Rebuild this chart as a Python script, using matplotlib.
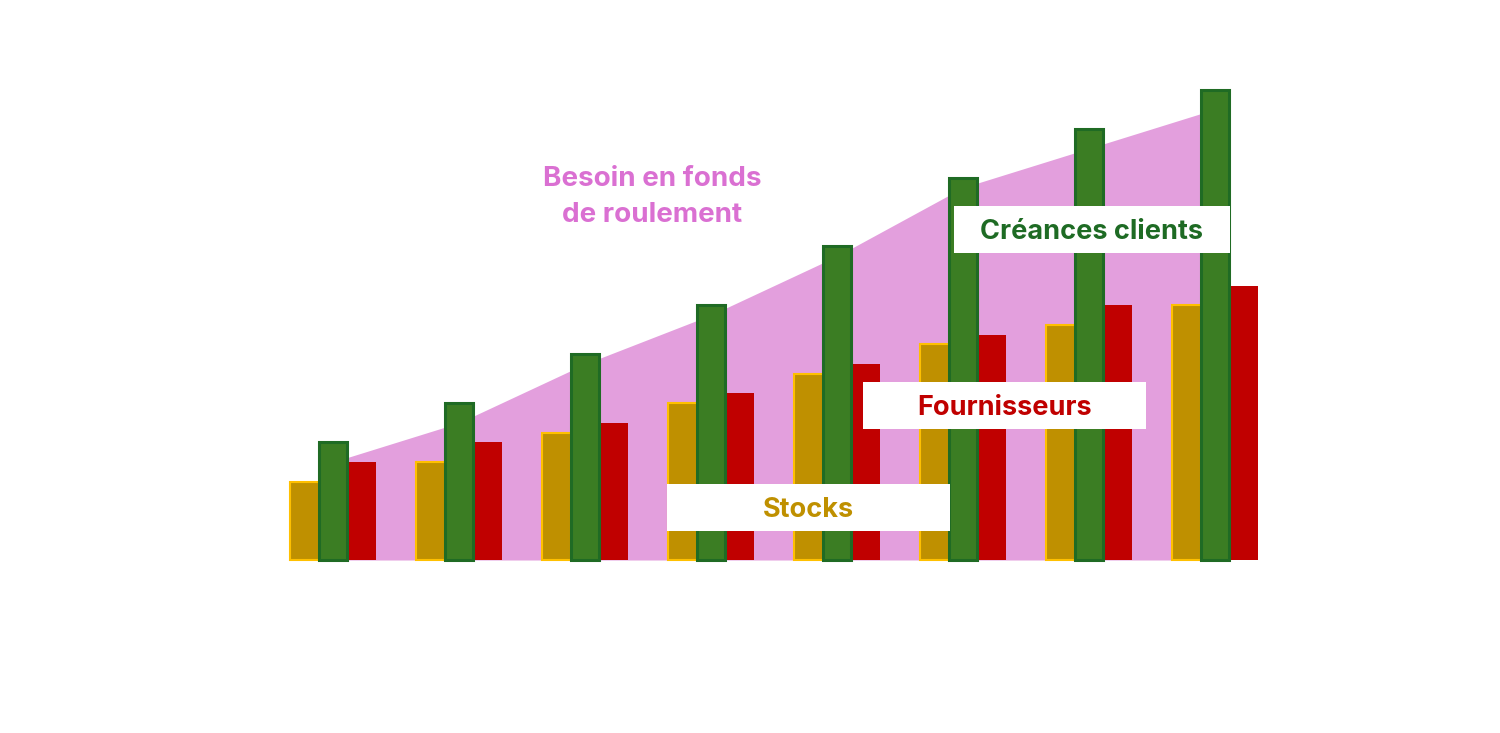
import numpy as np
import matplotlib.pyplot as plt
from matplotlib.patches import Rectangle

# values (same unit for all three series)
periods = ["P1", "P2", "P3", "P4", "P5", "P6", "P7", "P8"]
stocks = [40, 50, 65, 80, 95, 110, 120, 130]
creances = [60, 80, 105, 130, 160, 195, 220, 240]
fournisseurs = [50, 60, 70, 85, 100, 115, 130, 140]

label_bfr = "Besoin en fonds\nde roulement"
label_stocks = "Stocks"
label_creances = "Créances clients"
label_fourn = "Fournisseurs"

plt.rcParams['font.family'] = ['Inter', 'DejaVu Sans']

fig = plt.figure(figsize=(15, 7.33), dpi=100)
ax = fig.add_axes([0, 0, 1, 1])

x = np.arange(len(periods))
w = 0.226
bfr = np.array(stocks) + np.array(creances) - np.array(fournisseurs)

ax.fill_between(x, 0, bfr, color="#e39fdd", linewidth=0, zorder=1)
ax.bar(x - w, stocks, w, color="#bf9000", edgecolor="#ffc000", linewidth=1.5, zorder=2)
ax.bar(x + w, fournisseurs, w, color="#c00000", linewidth=0, zorder=2)
ax.bar(x, creances, w, color="#3b7d23", edgecolor="#1f6b24", linewidth=2.2, zorder=3)

ax.set_xlim(-333 / 126, (1500 - 333) / 126)
ax.set_ylim(-173 / 1.96, (733 - 173) / 1.96)
ax.axis("off")


def box_label(x0, y0, x1, y1, text, color):
    # pixel coords from top-left of the image
    W, H = 1500, 733
    fig.patches.append(Rectangle((x0 / W, 1 - y1 / H), (x1 - x0) / W, (y1 - y0) / H,
                                 transform=fig.transFigure, facecolor="white",
                                 edgecolor="none", zorder=5))
    fig.text((x0 + x1) / 2 / W, 1 - ((y0 + y1) / 2 + 2.5) / H, text, color=color,
             fontsize=19.5, fontweight="bold", ha="center", va="center", zorder=6)


box_label(954, 206, 1230, 253, label_creances, "#1e6b24")
box_label(863, 382, 1146, 429, label_fourn, "#c00000")
box_label(667, 484, 950, 531, label_stocks, "#bf9000")

fig.text(652 / 1500, 1 - 197 / 733, label_bfr, color="#da70d2", fontsize=20,
         fontweight="bold", ha="center", va="center", linespacing=1.45)

fig.savefig("out.png", dpi=100, facecolor="white")
